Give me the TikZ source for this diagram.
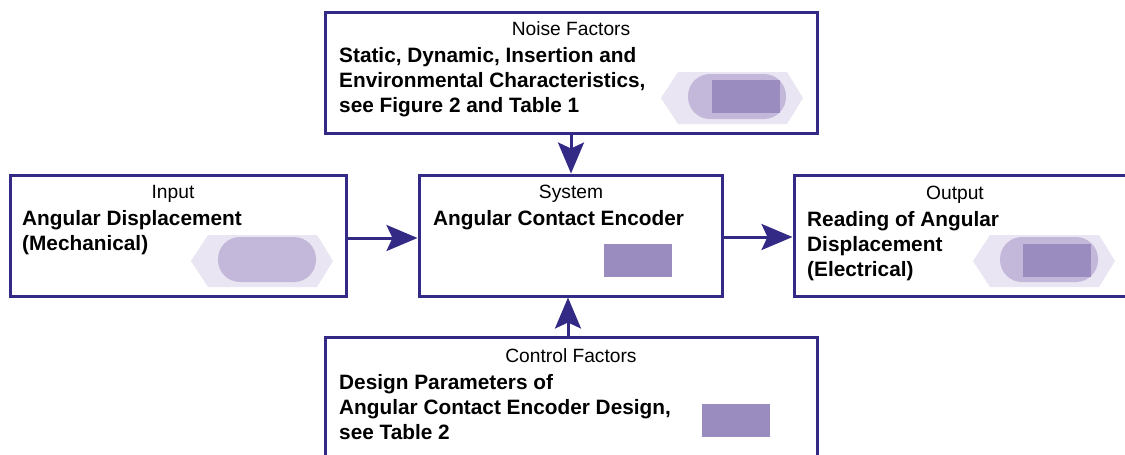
\documentclass[tikz,border=0pt]{standalone}
\usepackage{fontspec}
\setmainfont{Liberation Sans}
\usetikzlibrary{arrows.meta}
\definecolor{frameblue}{HTML}{332A86}
\definecolor{hexlilac}{HTML}{E9E5F3}
\definecolor{pilllilac}{HTML}{C3B8DA}
\definecolor{rectlilac}{HTML}{9A8CBE}
\tikzset{
    blockbox/.style={draw=frameblue,line width=3pt,fill=white,inner sep=0pt},
    flow/.style={draw=frameblue,line width=3pt,-{Stealth[length=31pt,width=26pt,inset=6pt]}},
    headtext/.style={font=\fontsize{19.2}{22}\selectfont,anchor=base,inner sep=0pt},
    bodytext/.style={font=\fontsize{20.8}{25}\selectfont\bfseries,anchor=base west,align=left,inner sep=0pt},
    hexpart/.style={fill=hexlilac,draw=none},
    pillpart/.style={fill=pilllilac,draw=none,rounded corners=22pt},
    rectpart/.style={fill=rectlilac,draw=none}
}
% Hexagon, pill and bar of the small encoder sketch
\newcommand{\hexpill}[2]{
    \fill[hexpart] (#1,#2+26) -- (#1+17,#2) -- (#1+126,#2) -- (#1+142,#2+26) -- (#1+126,#2+52) -- (#1+17,#2+52) -- cycle;
    \fill[pillpart] (#1+27,#2+2) rectangle (#1+125,#2+47);
}
\newcommand{\lilacbar}[2]{
    \fill[rectpart] (#1,#2) rectangle (#1+67.5,#2+33);
}
\begin{document}
\begin{tikzpicture}[x=1pt,y=-1pt]
    \useasboundingbox (0,0) rectangle (1125,455);

    % Blocks
    \node[blockbox,minimum width=492pt,minimum height=121pt] (noise) at (571,72.5) {};
    \node[blockbox,minimum width=336pt,minimum height=121pt] (input) at (178,235.5) {};
    \node[blockbox,minimum width=303pt,minimum height=121pt] (system) at (570.5,235.5) {};
    \node[blockbox,minimum width=340pt,minimum height=121pt] (output) at (964,235.5) {};
    \node[blockbox,minimum width=492pt,minimum height=130pt] (control) at (571,402) {};

    % Connectors
    \draw[flow] (noise.south) -- (noise.south |- system.north);
    \draw[flow] ([xshift=-3pt]control.north) -- ([xshift=-3pt]control.north |- system.south);
    \draw[flow] ([yshift=-2.5pt]input.east) -- ([yshift=-2.5pt]input.east -| system.west);
    \draw[flow] ([yshift=-1.5pt]system.east) -- ([yshift=-1.5pt]system.east -| output.west);

    % Noise factors
    \node[headtext] (noisehead) at (571,35) {Noise Factors};
    \node[bodytext] (noisebody) at (339,112) {Static, Dynamic, Insertion and\\Environmental Characteristics,\\see Figure 2 and Table 1};
    \hexpill{661}{72}
    \lilacbar{712}{80}

    % Input
    \node[headtext] (inputhead) at (173,198) {Input};
    \node[bodytext] (inputbody) at (22,250) {Angular Displacement\\(Mechanical)};
    \hexpill{191}{235}

    % System
    \node[headtext] (systemhead) at (571,198) {System};
    \node[bodytext] (systembody) at (433,225) {Angular Contact Encoder};
    \lilacbar{604}{244}

    % Output
    \node[headtext] (outputhead) at (955,199) {Output};
    \node[bodytext] (outputbody) at (807,276) {Reading of Angular\\Displacement\\(Electrical)};
    \hexpill{973}{235}
    \lilacbar{1023}{244}

    % Control factors
    \node[headtext] (controlhead) at (571,362) {Control Factors};
    \node[bodytext] (controlbody) at (339,439) {Design Parameters of\\Angular Contact Encoder Design,\\see Table 2};
    \lilacbar{702}{403.5}
\end{tikzpicture}
\end{document}
